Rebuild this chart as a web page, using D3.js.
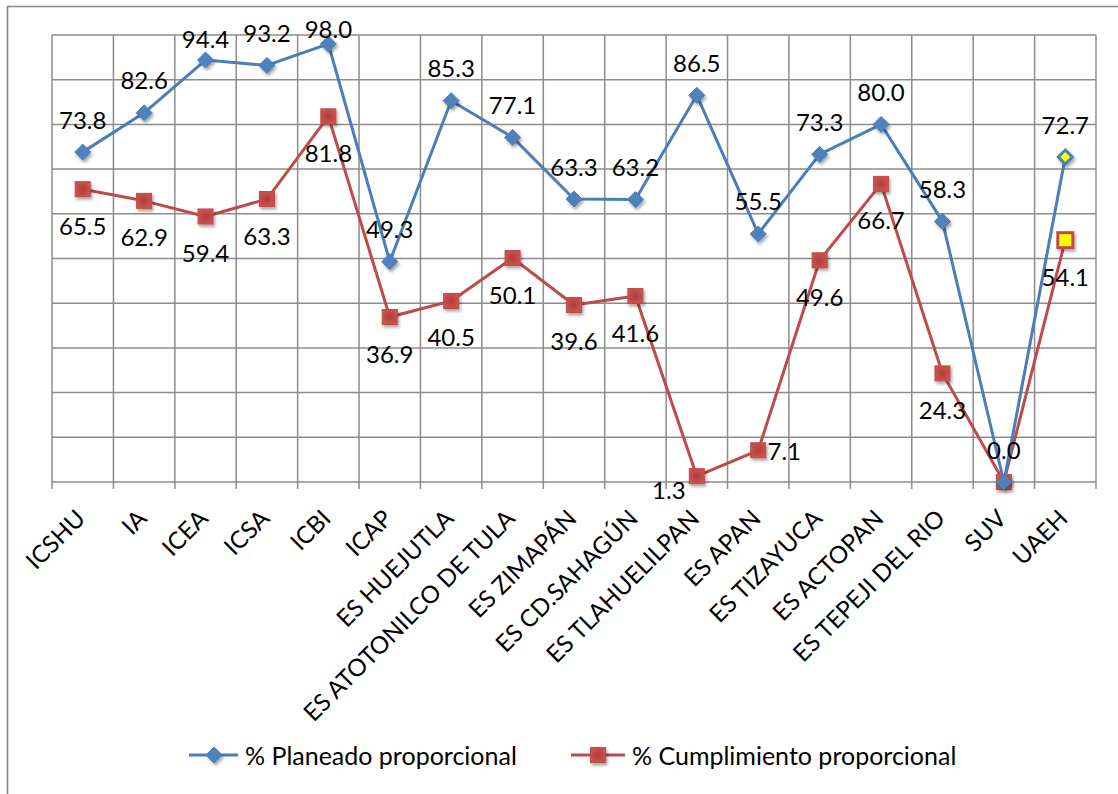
<!DOCTYPE html>
<html>
<head>
<meta charset="utf-8">
<script src="https://cdn.jsdelivr.net/npm/d3@7"></script>
<style>
  html, body { margin: 0; padding: 0; background: #fff; }
  svg { display: block; }
  text { font-family: Lato, "Open Sans", sans-serif; fill: #000; }
</style>
</head>
<body>
<svg id="chart" width="1118" height="794"></svg>
<script>
const categories = ["ICSHU", "IA", "ICEA", "ICSA", "ICBI", "ICAP", "ES HUEJUTLA",
  "ES ATOTONILCO DE TULA", "ES ZIMAPÁN", "ES CD.SAHAGÚN", "ES TLAHUELILPAN",
  "ES APAN", "ES TIZAYUCA", "ES ACTOPAN", "ES TEPEJI DEL RIO", "SUV", "UAEH"];
const planeado = [73.8, 82.6, 94.4, 93.2, 98.0, 49.3, 85.3, 77.1, 63.3, 63.2,
  86.5, 55.5, 73.3, 80.0, 58.3, 0.0, 72.7];
const cumplimiento = [65.5, 62.9, 59.4, 63.3, 81.8, 36.9, 40.5, 50.1, 39.6, 41.6,
  1.3, 7.1, 49.6, 66.7, 24.3, 0.0, 54.1];
const seriesNames = ["% Planeado proporcional", "% Cumplimiento proporcional"];
const yTicks = [0, 10, 20, 30, 40, 50, 60, 70, 80, 90, 100];

const svg = d3.select("#chart");
const plot = { left: 52, right: 1096, top: 35, bottom: 482 };

const x = d3.scaleBand().domain(categories).range([plot.left, plot.right]).padding(0);
const xc = c => x(c) + x.bandwidth() / 2;
const y = d3.scaleLinear().domain([0, 100]).range([plot.bottom, plot.top]);

const BLUE = "#4A7EBB", BLUE_FILL = "#4F81BD";
const RED = "#BE4B48", RED_FILL = "#C0504D";
const GRID = "#8c8c8c";

// defs: shadow
const defs = svg.append("defs");
const f = defs.append("filter").attr("id", "shadow").attr("x", "-50%").attr("y", "-50%")
  .attr("width", "200%").attr("height", "200%");
f.append("feDropShadow").attr("dx", 1.5).attr("dy", 2.5).attr("stdDeviation", 1.6)
  .attr("flood-color", "#000").attr("flood-opacity", 0.35);
const rg = defs.append("radialGradient").attr("id", "redGrad");
rg.append("stop").attr("offset", "0%").attr("stop-color", "#B23C39");
rg.append("stop").attr("offset", "100%").attr("stop-color", "#C9524F");

// outer border (left + top)
svg.append("path").attr("d", "M7.5,794 V6.5 H1118")
  .attr("fill", "none").attr("stroke", "#868686").attr("stroke-width", 1.6);

// horizontal gridlines
svg.append("g").selectAll("line").data(yTicks).join("line")
  .attr("x1", plot.left).attr("x2", plot.right)
  .attr("y1", d => y(d)).attr("y2", d => y(d))
  .attr("stroke", GRID).attr("stroke-width", 1.5);

// vertical gridlines + ticks
const bounds = categories.map(c => x(c)).concat([plot.right]);
svg.append("g").selectAll("line").data(bounds).join("line")
  .attr("x1", d => d).attr("x2", d => d)
  .attr("y1", plot.top).attr("y2", plot.bottom + 7)
  .attr("stroke", GRID).attr("stroke-width", 1.5);

// category labels
svg.append("g").selectAll("text").data(categories).join("text")
  .attr("text-anchor", "end")
  .attr("font-size", 24)
  .attr("transform", c => `translate(${xc(c) + 4},${plot.bottom + 38}) rotate(-45)`)
  .text(c => c);

const line = d3.line().x((d, i) => xc(categories[i])).y(d => y(d));

// red series
svg.append("path").datum(cumplimiento).attr("d", line)
  .attr("fill", "none").attr("stroke", RED).attr("stroke-width", 3).attr("stroke-linejoin", "round");
// blue series
svg.append("path").datum(planeado).attr("d", line)
  .attr("fill", "none").attr("stroke", BLUE).attr("stroke-width", 3).attr("stroke-linejoin", "round");

const last = categories.length - 1;

// red markers
svg.append("g").attr("filter", "url(#shadow)").selectAll("rect").data(cumplimiento).join("rect")
  .attr("x", (d, i) => xc(categories[i]) - 7.5).attr("y", d => y(d) - 7.5)
  .attr("width", 15).attr("height", 15)
  .attr("fill", (d, i) => i === last ? "#FFFF00" : "url(#redGrad)")
  .attr("stroke", RED).attr("stroke-width", (d, i) => i === last ? 3 : 1);

// blue markers
const diamond = (cx, cy, r) => `M${cx},${cy - r} L${cx + r},${cy} L${cx},${cy + r} L${cx - r},${cy} Z`;
svg.append("g").attr("filter", "url(#shadow)").selectAll("path").data(planeado).join("path")
  .attr("d", (d, i) => diamond(xc(categories[i]), y(d), i === last ? 7 : 8))
  .attr("fill", (d, i) => i === last ? "#FFFF00" : BLUE_FILL)
  .attr("stroke", BLUE).attr("stroke-width", (d, i) => i === last ? 3 : 1);

// data labels
const LFS = 24;
const blueLabels = planeado.map((v, i) => ({ v, c: categories[i] }));
svg.append("g").selectAll("text").data(blueLabels).join("text")
  .attr("text-anchor", "middle").attr("font-size", LFS).attr("dominant-baseline", "central")
  .attr("x", d => xc(d.c))
  .attr("y", d => {
    if (d.c === "ICBI") return 28;          // kept inside the chart area
    if (d.c === "ICEA") return y(d.v) - 22; // nudged to avoid overlap
    return y(d.v) - 33;
  })
  .text(d => d.v.toFixed(1));

const redLabels = cumplimiento.map((v, i) => ({ v, c: categories[i] })).filter(d => d.c !== "SUV");
svg.append("g").selectAll("text").data(redLabels).join("text")
  .attr("text-anchor", "middle").attr("font-size", LFS).attr("dominant-baseline", "central")
  .attr("x", d => {
    if (d.c === "ES TLAHUELILPAN") return xc(d.c) - 28;
    if (d.c === "ES APAN") return xc(d.c) + 26;
    return xc(d.c);
  })
  .attr("y", d => {
    if (d.c === "ES TLAHUELILPAN") return plot.bottom + 7;
    if (d.c === "ES APAN") return y(d.v);
    return y(d.v) + 36;
  })
  .text(d => d.v.toFixed(1));

// legend
const ly = 755;
const LGFS = 25;
const lg = svg.append("g");
lg.append("line").attr("x1", 189).attr("x2", 238).attr("y1", ly).attr("y2", ly)
  .attr("stroke", BLUE).attr("stroke-width", 3);
lg.append("path").attr("d", diamond(214, ly, 8)).attr("fill", BLUE_FILL).attr("stroke", BLUE)
  .attr("filter", "url(#shadow)");
lg.append("text").attr("x", 245).attr("y", ly).attr("dominant-baseline", "central")
  .attr("font-size", LGFS).text(seriesNames[0]);
lg.append("line").attr("x1", 571).attr("x2", 625).attr("y1", ly).attr("y2", ly)
  .attr("stroke", RED).attr("stroke-width", 3);
lg.append("rect").attr("x", 598 - 7.5).attr("y", ly - 7.5).attr("width", 15).attr("height", 15)
  .attr("fill", "url(#redGrad)").attr("stroke", RED).attr("filter", "url(#shadow)");
lg.append("text").attr("x", 632).attr("y", ly).attr("dominant-baseline", "central")
  .attr("font-size", LGFS).text(seriesNames[1]);
</script>
</body>
</html>
